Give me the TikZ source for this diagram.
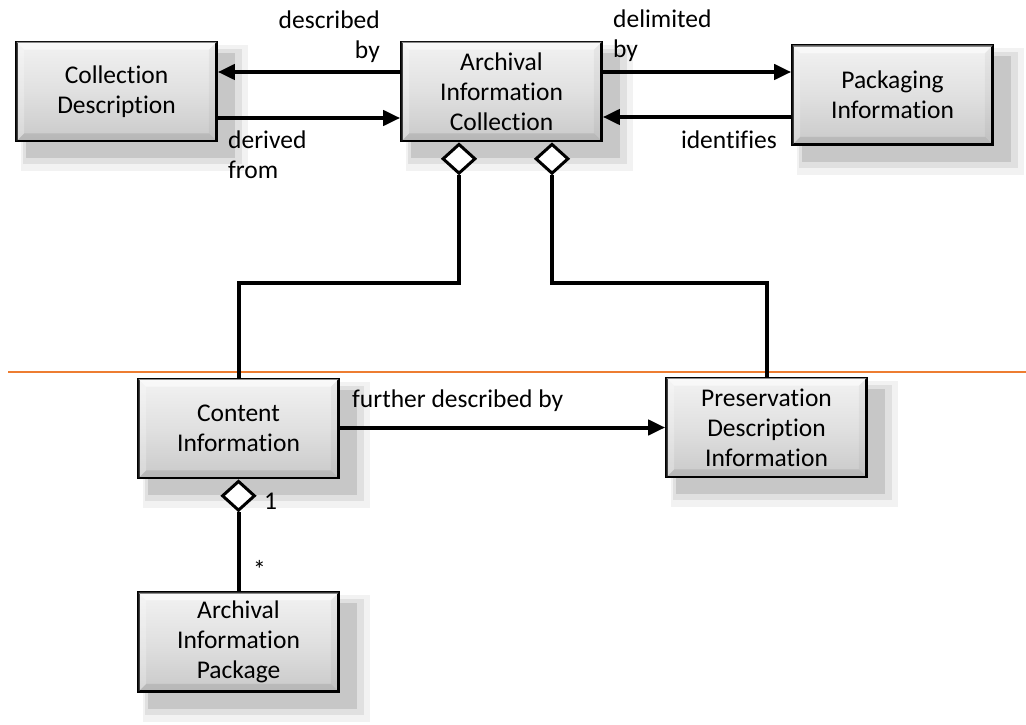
\documentclass[tikz,border=0pt]{standalone}
\usepackage{fontspec}
\setmainfont{Carlito}[Ligatures={NoCommon}]
\usetikzlibrary{arrows.meta,shapes.geometric,calc}
\pgfdeclarelayer{bg}
\pgfsetlayers{bg,main}
\begin{document}
\begin{tikzpicture}[x=1pt,y=-1pt,
  box/.style={draw=black, line width=2.6pt, minimum width=200pt, minimum height=99pt,
    inner sep=0pt, align=center, top color=black!5, bottom color=black!21, middle color=black!12,
    font=\fontsize{25.5}{30}\selectfont},
  lab/.style={inner sep=0pt, font=\fontsize{25.5}{30}\selectfont},
  conn/.style={line width=4pt},
  arr/.style={line width=4pt, -{Triangle[length=17pt,width=15pt]}},
  dia/.style={diamond, draw=black, line width=3pt, fill=white, minimum width=33pt,
    minimum height=30pt, inner sep=0pt}]
\useasboundingbox (0,0) rectangle (1026,725);
% orange divider
\draw[line width=2pt, color={rgb,255:red,237;green,125;blue,49}] (8,371.5) -- (1026,371.5);
% boxes
\node[box] (CD)  at (116.5,91.5) {Collection\\Description};
\node[box] (AIC) at (501.5,91.5) {Archival\\Information\\Collection};
\node[box] (PI)  at (892.5,95)   {Packaging\\Information};
\node[box] (CI)  at (238.5,428.5) {Content\\Information};
\node[box] (PDI) at (766.5,427.5) {Preservation\\Description\\Information};
\node[box] (AIP) at (238.5,642)  {Archival\\Information\\Package};
% shadows
\begin{pgfonlayer}{bg}
\foreach \n in {CD,AIC,PI,CI,PDI,AIP}{
  \fill[black!5]  ($(\n.north west)+(6,4)$)  rectangle ($(\n.south east)+(30,29)$);
  \fill[black!12] ($(\n.north west)+(8,8)$)  rectangle ($(\n.south east)+(24,22)$);
  \fill[black!22] ($(\n.north west)+(11,12)$) rectangle ($(\n.south east)+(17,16)$);
}
\end{pgfonlayer}
% bevels
\foreach \n in {CD,AIC,PI,CI,PDI,AIP}{
  \coordinate (A) at ($(\n.north west)+(1.3,1.3)$);
  \coordinate (B) at ($(\n.north east)+(-1.3,1.3)$);
  \coordinate (C) at ($(\n.south east)+(-1.3,-1.3)$);
  \coordinate (D) at ($(\n.south west)+(1.3,-1.3)$);
  \coordinate (a) at ($(\n.north west)+(9,9)$);
  \coordinate (b) at ($(\n.north east)+(-9,9)$);
  \coordinate (c) at ($(\n.south east)+(-9,-9)$);
  \coordinate (d) at ($(\n.south west)+(9,-9)$);
  \fill[white, opacity=0.55] (A) -- (B) -- (b) -- (a) -- cycle;
  \fill[white, opacity=0.25] (A) -- (a) -- (d) -- (D) -- cycle;
  \fill[black, opacity=0.04] (B) -- (C) -- (c) -- (b) -- cycle;
  \fill[black, opacity=0.09] (D) -- (d) -- (c) -- (C) -- cycle;
}
% diamonds
\node[dia, anchor=north] (d1) at ($(AIC.south)+(-42.5,0)$) {};
\node[dia, anchor=north] (d2) at ($(AIC.south)+(50.5,0)$) {};
\node[dia, anchor=north] (d3) at (CI.south) {};
\coordinate (mid) at (0,283);
\draw[conn] (d1.south) -- (d1.south |- mid) -| (CI.north);
\draw[conn] (d2.south) -- (d2.south |- mid) -| (PDI.north);
\draw[conn] (d3.south) -- (AIP.north);
% arrows
\draw[arr] ([yshift=19.5pt]AIC.west) -- ([yshift=19.5pt]AIC.west -| CD.east);
\draw[arr] ([yshift=-26.5pt]CD.east) -- ([yshift=-26.5pt]CD.east -| AIC.west);
\draw[arr] ([yshift=19.5pt]AIC.east) -- ([yshift=19.5pt]AIC.east -| PI.west);
\draw[arr] ([yshift=-25.5pt]AIC.east -| PI.west) -- ([yshift=-25.5pt]AIC.east);
\draw[arr] ([yshift=1pt]CI.east) -- ([yshift=1pt]CI.east -| PDI.west);
% labels
\node[lab, anchor=base east, align=right] (l1) at (380,59) {described\\by};
\node[lab, anchor=base west, align=left] (l2) at (228,178) {derived\\from};
\node[lab, anchor=base west, align=left] (l3) at (613,58) {delimited\\by};
\node[lab, anchor=base east] (l4) at (777,148) {identifies};
\node[lab, anchor=base west] (l5) at (352,407) {further described by};
\node[lab, anchor=base west] (l6) at (264,509) {1};
\node[lab, anchor=base west] (l7) at (253,578) {*};
\end{tikzpicture}
\end{document}
